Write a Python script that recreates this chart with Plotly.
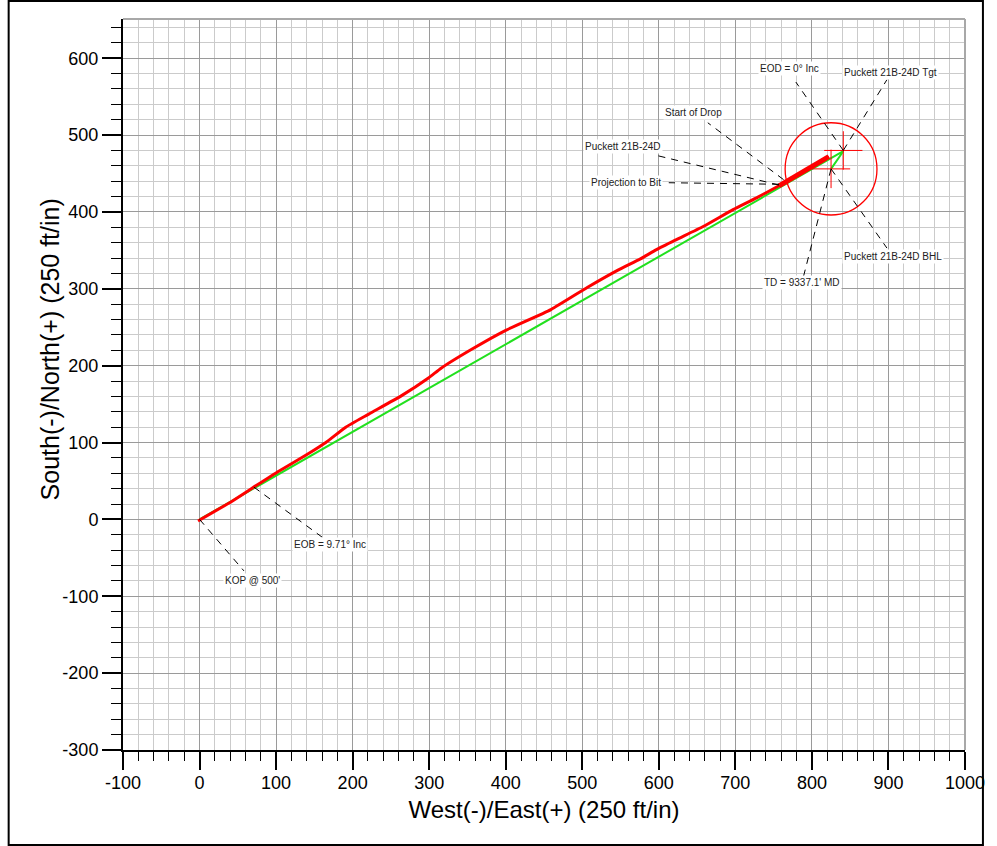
import plotly.graph_objects as go

# ---------------- data ----------------
# actual survey (red), East-West vs North-South, ft
survey_ew = [-2, 43, 74, 104, 143, 165, 191, 221, 264, 299, 316, 355, 400, 459, 507, 546, 576, 597, 623, 658, 697, 727, 757, 780, 805, 822]
survey_ns = [-2, 24, 44, 63, 86, 100, 120, 137, 161, 184, 197, 221, 246, 273, 302, 324, 339, 351, 364, 381, 403, 418, 434, 447, 461, 472]
# projection to bit (thicker red end section)
proj_ew = [757, 780, 805, 822]
proj_ns = [434, 447, 461, 472]
# plan (green)
plan_ew = [0, 841, 825]
plan_ns = [0, 479, 456]
# targets
tgt_ew, tgt_ns = 841, 480
bhl_ew, bhl_ns = 825, 456
circle_radius = 60
cross_half = 25

# tick labels
x_ticks = [-100, 0, 100, 200, 300, 400, 500, 600, 700, 800, 900, 1000]
x_tick_text = ["-100", "0", "100", "200", "300", "400", "500", "600", "700", "800", "900", "1000"]
y_ticks = [-300, -200, -100, 0, 100, 200, 300, 400, 500, 600]
y_tick_text = ["-300", "-200", "-100", "0", "100", "200", "300", "400", "500", "600"]

# annotations: label, point (ew, ns), leader start (ew, ns), label position (ew, ns)
ann_labels = ["EOD = 0° Inc", "Puckett 21B-24D Tgt", "Start of Drop", "Puckett 21B-24D",
              "Projection to Bit", "Puckett 21B-24D BHL", "TD = 9337.1' MD",
              "EOB = 9.71° Inc", "KOP @ 500'"]
ann_point_ew = [841, 841, 763, 757, 757, 825, 825, 71, 0]
ann_point_ns = [480, 480, 442, 435, 436, 456, 456, 42, 0]
ann_lead_ew = [779, 898, 664, 595, 613, 898, 789, 160, 58]
ann_lead_ns = [569, 572, 516, 474, 438, 353, 316, -23, -67]
ann_text_ew = [771, 903, 645, 553, 557, 906, 787, 171, 69]
ann_text_ns = [586, 581, 530, 485, 438, 342, 308, -33, -79]

x_range = [-100, 1000]
y_range = [-300, 651]

# ---------------- figure ----------------
fig = go.Figure()

fig.add_trace(go.Scatter(x=plan_ew, y=plan_ns, mode="lines",
                         line=dict(color="#22e01f", width=2), hoverinfo="skip"))
fig.add_trace(go.Scatter(x=survey_ew, y=survey_ns, mode="lines",
                         line=dict(color="#ff0000", width=3, shape="spline", smoothing=0.5),
                         hoverinfo="skip"))
fig.add_trace(go.Scatter(x=proj_ew, y=proj_ns, mode="lines",
                         line=dict(color="#ff0000", width=5), hoverinfo="skip"))

# target crosses
cx, cy = [], []
for (ex, ny) in [(tgt_ew, tgt_ns), (bhl_ew, bhl_ns)]:
    cx += [ex - cross_half, ex + cross_half, None, ex, ex, None]
    cy += [ny, ny, None, ny - cross_half, ny + cross_half, None]
fig.add_trace(go.Scatter(x=cx, y=cy, mode="lines",
                         line=dict(color="#ff0000", width=1), hoverinfo="skip"))

shapes = []
# target circle
shapes.append(dict(type="circle", xref="x", yref="y",
                   x0=bhl_ew - circle_radius, x1=bhl_ew + circle_radius,
                   y0=bhl_ns - circle_radius, y1=bhl_ns + circle_radius,
                   line=dict(color="#ff0000", width=1.3), layer="above"))
# leader lines
for i in range(len(ann_labels)):
    shapes.append(dict(type="line", xref="x", yref="y",
                       x0=ann_point_ew[i], y0=ann_point_ns[i],
                       x1=ann_lead_ew[i], y1=ann_lead_ns[i],
                       line=dict(color="black", width=1, dash="7px,6px"), layer="above"))
# plot frame top/right (gray)
shapes.append(dict(type="line", xref="paper", yref="paper", x0=0, x1=1, y0=1, y1=1,
                   line=dict(color="#a8a8a8", width=2)))
shapes.append(dict(type="line", xref="paper", yref="paper", x0=1, x1=1, y0=0, y1=1,
                   line=dict(color="#a8a8a8", width=2)))
# outer page border
shapes.append(dict(type="rect", xref="paper", yref="paper",
                   x0=-0.1358, x1=1.0213, y0=-0.1300, y1=1.0246,
                   line=dict(color="black", width=2)))

annotations = []
for i in range(len(ann_labels)):
    annotations.append(dict(x=ann_text_ew[i], y=ann_text_ns[i], xref="x", yref="y",
                            text=ann_labels[i], showarrow=False,
                            font=dict(size=10, color="#222"),
                            bgcolor="white", borderpad=1))
# y-axis title (placed as in the reference, not centred on the axis)
annotations.append(dict(x=-0.0862, y=0.5486, xref="paper", yref="paper",
                        text="South(-)/North(+) (250 ft/in)", textangle=-90,
                        showarrow=False, xanchor="center", yanchor="middle",
                        font=dict(size=25, color="black")))

fig.update_layout(
    width=997, height=846,
    margin=dict(l=123, r=27, t=19, b=96),
    plot_bgcolor="white", paper_bgcolor="white",
    showlegend=False,
    font=dict(family="Liberation Sans, Arial, sans-serif", color="black"),
    shapes=shapes, annotations=annotations,
)

fig.update_xaxes(
    range=x_range, tickmode="array", tickvals=x_ticks, ticktext=x_tick_text,
    ticks="outside", ticklen=18, tickwidth=2, tickcolor="black",
    showline=True, linecolor="black", linewidth=2,
    showgrid=True, gridcolor="#9a9a9a", gridwidth=1, zeroline=False,
    minor=dict(tick0=0, dtick=20, ticks="outside", ticklen=9, tickwidth=1, tickcolor="black",
               showgrid=True, gridcolor="#cbcbcb", gridwidth=1),
    tickfont=dict(size=18), ticklabelstandoff=-3,
    title=dict(text="West(-)/East(+) (250 ft/in)", font=dict(size=24), standoff=10),
)
fig.update_yaxes(
    range=y_range, tickmode="array", tickvals=y_ticks, ticktext=y_tick_text,
    ticks="outside", ticklen=19, tickwidth=2, tickcolor="black",
    showline=True, linecolor="black", linewidth=2,
    showgrid=True, gridcolor="#9a9a9a", gridwidth=1, zeroline=False,
    minor=dict(tick0=0, dtick=20, ticks="outside", ticklen=10, tickwidth=1, tickcolor="black",
               showgrid=True, gridcolor="#cbcbcb", gridwidth=1),
    tickfont=dict(size=18),
)

fig.write_html("out.html", config={"displayModeBar": False},
               post_script="document.body.style.margin='0px';")
